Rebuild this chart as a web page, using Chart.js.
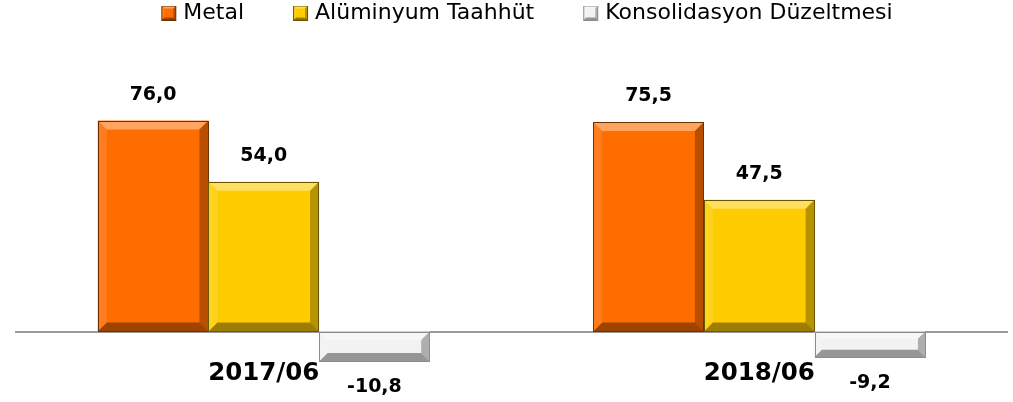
<!DOCTYPE html>
<html>
<head>
<meta charset="utf-8">
<script src="https://cdn.jsdelivr.net/npm/chart.js@4.4.0/dist/chart.umd.min.js"></script>
<style>
  html, body { margin: 0; padding: 0; background: #fff; overflow: hidden; }
  #wrap { width: 1013px; height: 402px; }
</style>
</head>
<body>
<div id="wrap"><canvas id="chart" width="1013" height="402"></canvas></div>
<script>
// data
var periods = ['2017/06', '2018/06'];
var seriesNames = ['Metal', 'Alüminyum Taahhüt', 'Konsolidasyon Düzeltmesi'];
var metal = [76.0, 75.5];
var aluminyum = [54.0, 47.5];
var konsolidasyon = [-10.8, -9.2];

var fills = ['#ff6c00', '#ffcc00', '#f2f2f2'];
var edges = ['#6b3200', '#6b5600', '#8c8c8c'];

function poly(ctx, pts, color) {
    ctx.beginPath();
    ctx.moveTo(pts[0][0], pts[0][1]);
    for (var i = 1; i < pts.length; i++) ctx.lineTo(pts[i][0], pts[i][1]);
    ctx.closePath();
    ctx.fillStyle = color;
    ctx.fill();
}

// 3d bevel on top of an already filled rectangle
function bevel(ctx, l, t, r, b, s, edge) {
    poly(ctx, [[l, t], [r, t], [r - s, t + s], [l + s, t + s]], 'rgba(255,255,255,0.38)');
    poly(ctx, [[l, t], [l + s, t + s], [l + s, b - s], [l, b]], 'rgba(255,255,255,0.12)');
    poly(ctx, [[r, t], [r, b], [r - s, b - s], [r - s, t + s]], 'rgba(0,0,0,0.28)');
    poly(ctx, [[l, b], [r, b], [r - s, b - s], [l + s, b - s]], 'rgba(0,0,0,0.38)');
    ctx.strokeStyle = edge;
    ctx.lineWidth = 1;
    ctx.strokeRect(Math.round(l) + 0.5, Math.round(t) + 0.5, Math.round(r - l) - 1, Math.round(b - t) - 1);
}

// legend swatches: transparent lead-in so the items get Excel-like spacing
function swatch(i) {
    var c = document.createElement('canvas');
    c.width = 80;
    c.height = 15;
    var g = c.getContext('2d');
    g.fillStyle = fills[i];
    g.fillRect(58, 0, 15, 15);
    bevel(g, 58, 0, 73, 15, 3, edges[i]);
    return c;
}
var swatches = [swatch(0), swatch(1), swatch(2)];

var bevelPlugin = {
    id: 'bevel',
    afterDatasetsDraw: function(chart) {
        var ctx = chart.ctx;
        ctx.save();
        chart.data.datasets.forEach(function(ds, i) {
            chart.getDatasetMeta(i).data.forEach(function(bar) {
                var p = bar.getProps(['x', 'y', 'base', 'width'], true);
                var l = p.x - p.width / 2, r = p.x + p.width / 2;
                var t = Math.min(p.y, p.base), b = Math.max(p.y, p.base);
                var s = Math.min(9, (b - t) / 3.5);
                bevel(ctx, l, t, r, b, s, edges[i]);
            });
        });
        ctx.restore();
    }
};

var valueLabels = {
    id: 'valueLabels',
    afterDatasetsDraw: function(chart) {
        var ctx = chart.ctx;
        ctx.save();
        ctx.font = 'bold 19px "DejaVu Sans"';
        ctx.fillStyle = '#000';
        ctx.textAlign = 'center';
        ctx.textBaseline = 'middle';
        chart.data.datasets.forEach(function(ds, i) {
            chart.getDatasetMeta(i).data.forEach(function(bar, j) {
                var v = ds.data[j];
                var y = v >= 0 ? bar.y - 26 : bar.y + 26;
                ctx.fillText(v.toFixed(1).replace('.', ','), bar.x, y);
            });
        });
        ctx.restore();
    }
};

Chart.defaults.font.family = '"DejaVu Sans", sans-serif';

new Chart(document.getElementById('chart'), {
    type: 'bar',
    data: {
        labels: periods,
        datasets: [
            { label: seriesNames[0], data: metal, backgroundColor: fills[0] },
            { label: seriesNames[1], data: aluminyum, backgroundColor: fills[1] },
            { label: seriesNames[2], data: konsolidasyon, backgroundColor: fills[2] }
        ]
    },
    options: {
        responsive: false,
        animation: false,
        categoryPercentage: 0.67,
        barPercentage: 1.0,
        layout: { padding: { left: 0, right: 6, top: 0, bottom: 0 } },
        plugins: {
            tooltip: { enabled: false },
            legend: {
                position: 'top',
                labels: {
                    usePointStyle: true,
                    pointStyleWidth: 58,
                    padding: 2,
                    color: '#000',
                    font: { size: 22 },
                    generateLabels: function(chart) {
                        var items = Chart.defaults.plugins.legend.labels.generateLabels(chart);
                        items.forEach(function(it, i) { it.pointStyle = swatches[i]; });
                        return items;
                    }
                }
            }
        },
        scales: {
            x: {
                position: { y: 0 },
                offset: true,
                grid: { display: false },
                border: { display: true, color: '#9a9a9a', width: 2 },
                ticks: {
                    color: '#000',
                    padding: 19,
                    maxRotation: 0,
                    autoSkip: false,
                    font: { size: 24.5, weight: 'bold' }
                }
            },
            y: {
                position: 'left',
                min: -25.4,
                max: 107.2,
                grid: { display: false },
                border: { display: false },
                ticks: { display: false },
                afterFit: function(scale) { scale.width = 16; }
            }
        }
    },
    plugins: [bevelPlugin, valueLabels]
});
</script>
</body>
</html>
